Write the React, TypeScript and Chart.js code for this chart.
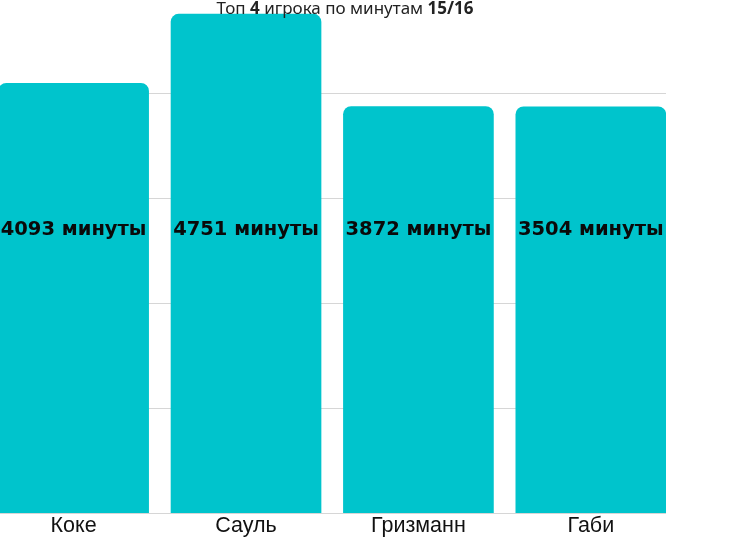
import React, { useEffect, useRef } from "react";
import { Chart, registerables } from "chart.js";

Chart.register(...registerables);

const players = ["Коке", "Сауль", "Гризманн", "Габи"];
const minutes = [4093, 4751, 3872, 3870];
const barLabels = ["4093 минуты", "4751 минуты", "3872 минуты", "3504 минуты"];
const yTicks = [0, 1000, 2000, 3000, 4000];

const TEAL = "#00C4CC";

const labelPlugin = {
  id: "barTextLabels",
  afterDatasetsDraw(chart: any) {
    const ctx = chart.ctx;
    const meta = chart.getDatasetMeta(0);
    const yScale = chart.scales.y;
    const y = yScale.getPixelForValue(2700);
    ctx.save();
    ctx.font = "bold 19.5px 'DejaVu Sans', Verdana, sans-serif";
    ctx.fillStyle = "#0a0a0a";
    ctx.textAlign = "center";
    ctx.textBaseline = "middle";
    meta.data.forEach((bar: any, i: number) => {
      ctx.fillText(barLabels[i], bar.x, y);
    });
    ctx.restore();
  },
};

export default function App() {
  const canvasRef = useRef<HTMLCanvasElement | null>(null);

  useEffect(() => {
    if (!canvasRef.current) return;
    const chart = new Chart(canvasRef.current, {
      type: "bar",
      data: {
        datasets: [
          {
            data: minutes.map((v, i) => ({ x: i, y: v })),
            backgroundColor: TEAL,
            borderRadius: 8,
            borderSkipped: "bottom",
            barThickness: 150,
          },
        ],
      },
      options: {
        animation: false,
        responsive: false,
        layout: { padding: { left: 0, right: 64, top: 0, bottom: 12 } },
        plugins: {
          legend: { display: false },
          title: { display: false },
          tooltip: { enabled: false },
        },
        scales: {
          x: {
            type: "linear",
            offset: false,
            min: -0.427,
            max: 3.436,
            grid: { display: false, offset: false, drawTicks: false },
            border: { display: false },
            afterBuildTicks: (scale: any) => {
              scale.ticks = players.map((_, i) => ({ value: i }));
            },
            ticks: {
              autoSkip: false,
              maxRotation: 0,
              padding: 0,
              color: "#111",
              font: { family: "'Liberation Sans', Arial, sans-serif", size: 21.5 },
              callback: (v: any) =>
                Number.isInteger(v) && players[v] !== undefined ? players[v] : "",
            },
          },
          y: {
            min: 0,
            max: 4886,
            afterBuildTicks: (scale: any) => {
              scale.ticks = yTicks.map((v) => ({ value: v }));
            },
            ticks: { display: false },
            border: { display: false },
            grid: {
              drawTicks: false,
              color: "#d6d6d6",
              lineWidth: 1,
            },
          },
        },
      } as any,
      plugins: [labelPlugin],
    });
    return () => chart.destroy();
  }, []);

  return (
    <div style={{ position: "absolute", left: 0, top: 0, width: 730, height: 551 }}>
      <canvas ref={canvasRef} width={730} height={551} style={{ display: "block" }} />
      <div
        style={{
          position: "absolute",
          left: 0,
          top: -2,
          width: 690,
          textAlign: "center",
          fontFamily: "'Noto Sans', sans-serif",
          fontSize: 17,
          lineHeight: "20px",
          color: "#222",
          whiteSpace: "nowrap",
        }}
      >
        Топ <b>4</b> игрока по минутам <b>15/16</b>
      </div>
    </div>
  );
}
